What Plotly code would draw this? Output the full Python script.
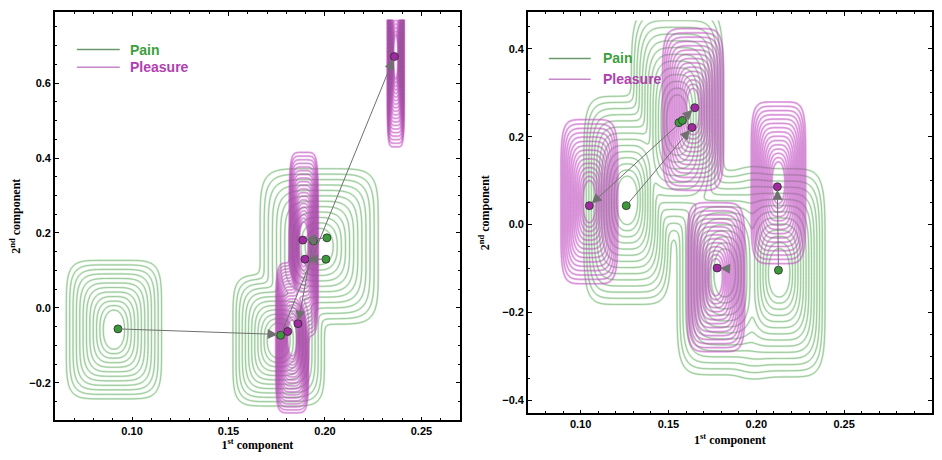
import numpy as np
import plotly.graph_objects as go

# ---------------- data ----------------
# Left panel: cluster boxes (centre, outer half-size, inner half-size)
L_pain_cx = [0.0906, 0.176, 0.197]
L_pain_cy = [-0.058, -0.087, 0.164]
L_pain_bx = [0.025, 0.024, 0.031]
L_pain_by = [0.187, 0.177, 0.210]
L_pain_ax = [0.0045, 0.005, 0.006]
L_pain_ay = [0.045, 0.040, 0.040]

L_pleas_cx = [0.183, 0.189, 0.2367]
L_pleas_cy = [-0.080, 0.170, 0.670]
L_pleas_bx = [0.0085, 0.0075, 0.0044]
L_pleas_by = [0.200, 0.245, 0.240]
L_pleas_ax = [0.0020, 0.0020, 0.0010]
L_pleas_ay = [0.040, 0.050, 0.050]

# Right panel
R_pain_cx = [0.1265, 0.155, 0.182, 0.213]
R_pain_cy = [0.055, 0.234, -0.110, -0.110]
R_pain_bx = [0.0255, 0.027, 0.028, 0.027]
R_pain_by = [0.245, 0.270, 0.240, 0.245]
R_pain_ax = [0.005, 0.005, 0.005, 0.005]
R_pain_ay = [0.045, 0.050, 0.045, 0.045]

R_pleas_cx = [0.105, 0.164, 0.2126, 0.177]
R_pleas_cy = [0.052, 0.262, 0.095, -0.120]
R_pleas_bx = [0.0167, 0.018, 0.016, 0.017]
R_pleas_by = [0.193, 0.190, 0.190, 0.175]
R_pleas_ax = [0.003, 0.003, 0.003, 0.003]
R_pleas_ay = [0.040, 0.040, 0.040, 0.035]

# Points
L_pain_px = [0.0927, 0.177, 0.201, 0.2005, 0.194]
L_pain_py = [-0.056, -0.073, 0.187, 0.130, 0.179]
L_pleas_px = [0.1885, 0.1896, 0.186, 0.1807, 0.236]
L_pleas_py = [0.181, 0.130, -0.042, -0.063, 0.671]

R_pain_px = [0.126, 0.156, 0.158, 0.2126]
R_pain_py = [0.043, 0.232, 0.237, -0.104]
R_pleas_px = [0.105, 0.165, 0.1634, 0.212, 0.1777]
R_pleas_py = [0.043, 0.266, 0.221, 0.086, -0.099]

# Arrows (from -> to)
L_arr_x0 = [0.0927, 0.177, 0.201, 0.2005, 0.194]
L_arr_y0 = [-0.056, -0.073, 0.187, 0.130, 0.179]
L_arr_x1 = [0.177, 0.236, 0.1885, 0.1896, 0.186]
L_arr_y1 = [-0.071, 0.671, 0.181, 0.130, -0.042]

R_arr_x0 = [0.157, 0.126, 0.157, 0.2126, 0.186]
R_arr_y0 = [0.233, 0.043, 0.235, -0.104, -0.101]
R_arr_x1 = [0.105, 0.1634, 0.165, 0.212, 0.1777]
R_arr_y1 = [0.043, 0.221, 0.266, 0.086, -0.099]

L_xrange = [0.06, 0.27]
L_yrange = [-0.30, 0.79]
L_grid_ymax = 0.77
R_xrange = [0.07, 0.30]
R_yrange = [-0.43, 0.484]
R_grid_ymax = 0.465

PAIN_COL = "#3a9a3a"
PLEAS_COL = "#a02aa0"


def tfield(X, Y, cx, cy, bx, by, ax, ay, pmax=6.0):
    dx = np.abs(X - cx)
    dy = np.abs(Y - cy)
    lo = np.full(X.shape, -0.9 * min(ax / (bx - ax), ay / (by - ay)))
    hi = np.full(X.shape, 3.0)
    for _ in range(36):
        mid = 0.5 * (lo + hi)
        wx = ax + mid * (bx - ax)
        wy = ay + mid * (by - ay)
        p = 2.0 + np.clip(mid, 0, 1) * (pmax - 2.0)
        g = (dx / wx) ** p + (dy / wy) ** p
        outside = g > 1
        lo = np.where(outside, mid, lo)
        hi = np.where(outside, hi, mid)
    return 0.5 * (lo + hi)


def field(X, Y, cxs, cys, bxs, bys, axs, ays, tau=0.06):
    acc = np.zeros(X.shape)
    for cx, cy, bx, by, ax, ay in zip(cxs, cys, bxs, bys, axs, ays):
        acc += np.exp(-tfield(X, Y, cx, cy, bx, by, ax, ay) / tau)
    F = -tau * np.log(acc + 1e-300)
    return np.clip(F, -1, 1.5).astype(np.float32)


def contour_traces(xv, yv, Z, glow, core, xa, ya, step):
    out = []
    for col, w in ((glow, 2.2), (core, 0.6)):
        out.append(go.Contour(
            x=xv, y=yv, z=Z, xaxis=xa, yaxis=ya,
            contours=dict(start=0.05, end=1.0, size=step, coloring="lines"),
            colorscale=[[0, col], [1, col]], showscale=False,
            line=dict(width=w), hoverinfo="skip"))
    return out


fig = go.Figure()

lxv = np.linspace(L_xrange[0], L_xrange[1], 440).astype(np.float32)
lyv = np.linspace(L_yrange[0], L_grid_ymax, 300).astype(np.float32)
LX, LY = np.meshgrid(lxv.astype(float), lyv.astype(float))
ZLp = field(LX, LY, L_pain_cx, L_pain_cy, L_pain_bx, L_pain_by, L_pain_ax, L_pain_ay)
ZLm = field(LX, LY, L_pleas_cx, L_pleas_cy, L_pleas_bx, L_pleas_by, L_pleas_ax, L_pleas_ay)

rxv = np.linspace(R_xrange[0], R_xrange[1], 420).astype(np.float32)
ryv = np.linspace(R_yrange[0], R_grid_ymax, 300).astype(np.float32)
RX, RY = np.meshgrid(rxv.astype(float), ryv.astype(float))
ZRp = field(RX, RY, R_pain_cx, R_pain_cy, R_pain_bx, R_pain_by, R_pain_ax, R_pain_ay)
ZRm = field(RX, RY, R_pleas_cx, R_pleas_cy, R_pleas_bx, R_pleas_by, R_pleas_ax, R_pleas_ay)

G_GLOW = "rgba(110,215,110,0.32)"
G_CORE = "rgba(100,130,100,0.72)"
M_GLOW = "rgba(228,55,228,0.36)"
M_CORE = "rgba(135,95,135,0.66)"

for t in contour_traces(lxv, lyv, ZLp, G_GLOW, G_CORE, "x", "y", 0.085):
    fig.add_trace(t)
for t in contour_traces(lxv, lyv, ZLm, M_GLOW, M_CORE, "x", "y", 0.05):
    fig.add_trace(t)
for t in contour_traces(rxv, ryv, ZRp, G_GLOW, G_CORE, "x2", "y2", 0.07):
    fig.add_trace(t)
for t in contour_traces(rxv, ryv, ZRm, M_GLOW, M_CORE, "x2", "y2", 0.065):
    fig.add_trace(t)

mk = dict(size=8, line=dict(color="#2a2a2a", width=0.8))
fig.add_trace(go.Scatter(x=L_pain_px, y=L_pain_py, mode="markers", xaxis="x", yaxis="y",
                         marker=dict(color=PAIN_COL, **mk), showlegend=False))
fig.add_trace(go.Scatter(x=L_pleas_px, y=L_pleas_py, mode="markers", xaxis="x", yaxis="y",
                         marker=dict(color=PLEAS_COL, **mk), showlegend=False))
fig.add_trace(go.Scatter(x=R_pain_px, y=R_pain_py, mode="markers", xaxis="x2", yaxis="y2",
                         marker=dict(color=PAIN_COL, **mk), showlegend=False))
fig.add_trace(go.Scatter(x=R_pleas_px, y=R_pleas_py, mode="markers", xaxis="x2", yaxis="y2",
                         marker=dict(color=PLEAS_COL, **mk), showlegend=False))

annotations = []
for x0, y0, x1, y1 in zip(L_arr_x0, L_arr_y0, L_arr_x1, L_arr_y1):
    annotations.append(dict(x=x1, y=y1, ax=x0, ay=y0, xref="x", yref="y", axref="x", ayref="y",
                            text="", showarrow=True, arrowhead=2, arrowsize=2.0, arrowwidth=1,
                            arrowcolor="#707070", standoff=3))
for x0, y0, x1, y1 in zip(R_arr_x0, R_arr_y0, R_arr_x1, R_arr_y1):
    annotations.append(dict(x=x1, y=y1, ax=x0, ay=y0, xref="x2", yref="y2", axref="x2", ayref="y2",
                            text="", showarrow=True, arrowhead=2, arrowsize=2.0, arrowwidth=1,
                            arrowcolor="#707070", standoff=3))

# The page puts the figure 8 px in from the top-left corner, so the figure is
# made 16 px smaller and positions (measured in page pixels) are shifted.
OFF = 8
W, H = 942 - 2 * OFF, 460 - 2 * OFF
def px(x):
    return (x - OFF) / W
def py(y):
    return 1 - (y - OFF) / H

shapes = []
legend_items = [
    (77, 120, 128, 50, "Pain", "#6a9a6a", "#3ca03c"),
    (77, 120, 128, 68, "Pleasure", "#c888c8", "#b040b0"),
    (550, 592, 602, 59, "Pain", "#6a9a6a", "#3ca03c"),
    (550, 592, 602, 80, "Pleasure", "#c888c8", "#b040b0"),
]
for xa0, xa1, xt, yy, txt, lc, tc in legend_items:
    shapes.append(dict(type="line", xref="paper", yref="paper", x0=px(xa0), x1=px(xa1),
                       y0=py(yy), y1=py(yy), line=dict(color=lc, width=1.5)))
    annotations.append(dict(x=px(xt), y=py(yy), xref="paper", yref="paper", text="<b>" + txt + "</b>",
                            showarrow=False, xanchor="left", yanchor="middle",
                            font=dict(family="Liberation Sans", size=14, color=tc)))

tickfont = dict(family="Liberation Sans", size=11, color="black", weight="bold")
titlefont = dict(family="Liberation Serif", size=12, color="black", weight="bold")

def axis(domain, rng, dtick, fmt, minor_dtick, title, anchor, standoff):
    return dict(domain=domain, range=rng, dtick=dtick, tick0=0, tickformat=fmt,
                showgrid=False, zeroline=False, showline=True, linecolor="black", linewidth=1.5,
                mirror="allticks", ticks="inside", ticklen=4, tickwidth=1.2, tickcolor="black",
                minor=dict(dtick=minor_dtick, tick0=0, ticks="inside", ticklen=2.5, tickwidth=1,
                           tickcolor="black", showgrid=False),
                tickfont=tickfont, anchor=anchor,
                title=dict(text=title, font=titlefont, standoff=standoff))

fig.update_layout(
    width=W, height=H, margin=dict(l=0, r=0, t=0, b=0),
    paper_bgcolor="white", plot_bgcolor="white", showlegend=False,
    xaxis=axis([px(55), px(461)], L_xrange, 0.05, ".2f", 0.01, "1<sup>st</sup> component", "y", 6),
    yaxis=axis([py(425), py(12)], L_yrange, 0.2, ".1f", 0.05, "2<sup>nd</sup> component", "x", 10),
    xaxis2=axis([px(529), px(934)], R_xrange, 0.05, ".2f", 0.01, "1<sup>st</sup> component", "y2", 6),
    yaxis2=axis([py(418), py(12)], R_yrange, 0.2, ".1f", 0.05, "2<sup>nd</sup> component", "x2", 10),
    annotations=annotations, shapes=shapes,
)

fig.write_html("out.html")
